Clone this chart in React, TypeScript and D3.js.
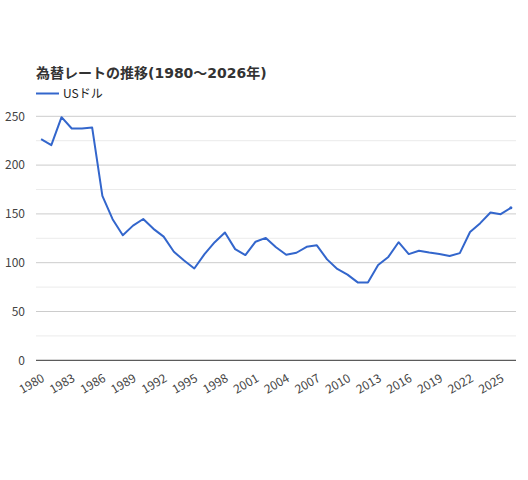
import React from "react";
import * as d3 from "d3";

const years: number[] = d3.range(1980, 2027);
const usd: number[] = [
  226.7, 220.5, 249.1, 237.5, 237.5, 238.5, 168.5, 144.6, 128.2, 138.0,
  144.8, 134.7, 126.7, 111.2, 102.2, 94.1, 108.8, 121.0, 130.9, 113.9,
  107.8, 121.5, 125.4, 115.9, 108.2, 110.2, 116.3, 117.8, 103.4, 93.6,
  87.8, 79.8, 79.8, 97.6, 105.9, 121.0, 108.8, 112.2, 110.4, 109.0,
  106.8, 109.8, 131.5, 140.5, 151.5, 149.7, 156.2,
];
const yTicks: number[] = [0, 50, 100, 150, 200, 250];
const yMinor: number[] = [25, 75, 125, 175, 225];
const title = "為替レートの推移(1980～2026年)";
const seriesName = "USドル";

const W = 528;
const H = 480;
const left = 36;
const right = 516;
const top = 116.3;
const bottom = 360.3;
const font = "'Noto Sans CJK JP', 'Noto Sans', sans-serif";
const titleFont = "'DejaVu Sans', 'Noto Sans CJK JP', sans-serif";

export default function App() {
  const x = d3
    .scalePoint<number>()
    .domain(years)
    .range([left, right])
    .padding(0.5);
  const y = d3.scaleLinear().domain([0, 250]).range([bottom, top]);
  const line = d3
    .line<number>()
    .x((_, i) => x(years[i]) as number)
    .y((d) => y(d));
  const labelYears = years.filter((_, i) => i % 3 === 0);
  const last = usd.length - 1;
  return (
    <svg
      width={W}
      height={H}
      style={{ position: "absolute", left: 0, top: 0, background: "#fff" }}
      fontFamily={font}
    >
      <rect x={0} y={0} width={W} height={H} fill="#fff" />
      <text x={36} y={78} fontSize={14} fontWeight="bold" fill="#333" fontFamily={titleFont}>
        {title}
      </text>
      <line x1={36} x2={59} y1={93.5} y2={93.5} stroke="#3366cc" strokeWidth={2} />
      <text x={63} y={97.5} fontSize={12} fill="#222">
        {seriesName}
      </text>
      {yMinor.map((t) => (
        <line key={"m" + t} x1={left} x2={right} y1={y(t)} y2={y(t)} stroke="#ebebeb" strokeWidth={1} />
      ))}
      {yTicks.filter((t) => t !== 0).map((t) => (
        <line key={"g" + t} x1={left} x2={right} y1={y(t)} y2={y(t)} stroke="#cccccc" strokeWidth={1} />
      ))}
      {yTicks.map((t) => (
        <text key={"yl" + t} x={25} y={y(t)} dy="0.35em" textAnchor="end" fontSize={12} fill="#444">
          {t}
        </text>
      ))}
      <path d={line(usd) || ""} fill="none" stroke="#3366cc" strokeWidth={2} strokeLinejoin="round" />
      <circle cx={x(years[last]) as number} cy={y(usd[last])} r={1.5} fill="#3366cc" />
      <line x1={left} x2={right} y1={y(0)} y2={y(0)} stroke="#333" strokeWidth={1} />
      {labelYears.map((yr) => (
        <text
          key={"xl" + yr}
          transform={`translate(${(x(yr) as number) + 2},${377}) rotate(-30)`}
          textAnchor="end"
          dy="0.35em"
          fontSize={12}
          fill="#444"
        >
          {yr}
        </text>
      ))}
    </svg>
  );
}
